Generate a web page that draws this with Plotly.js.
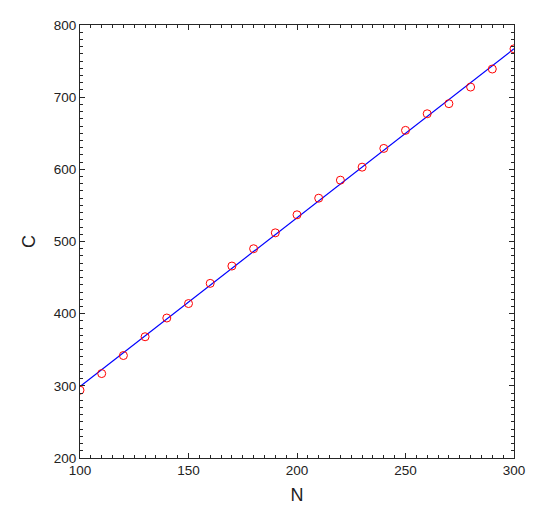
<!DOCTYPE html>
<html>
<head>
<meta charset="utf-8">
<script src="https://cdn.plot.ly/plotly-3.0.1.min.js"></script>
<style>html,body{margin:0;padding:0;background:#fff;}#chart{width:546px;height:512px;}</style>
</head>
<body>
<div id="chart"></div>
<script>
const N = [100,110,120,130,140,150,160,170,180,190,200,210,220,230,240,250,260,270,280,290,300];
const C = [294,317,342,368,394,414,442,466,490,512,537,560,585,603,629,654,677,691,714,739,767];
const fitN = [100,300];
const fitC = [299,767];

const data = [
  {x: fitN, y: fitC, mode:'lines', type:'scatter', line:{color:'#0000ff', width:1.2}, hoverinfo:'skip'},
  {x: N, y: C, mode:'markers', type:'scatter', marker:{symbol:'circle-open', size:8, color:'#ff0000', line:{width:1, color:'#ff0000'}}}
];
const axisCommon = {
  showgrid:false, zeroline:false, showline:true, linecolor:'#262626', linewidth:1,
  mirror:'ticks', ticks:'inside', ticklen:5, tickcolor:'#262626',
  tickfont:{family:'Liberation Sans, Arial, sans-serif', size:13.5, color:'#222222'}
};
const layout = {
  width:546, height:512,
  margin:{l:80, r:32, t:25, b:54},
  showlegend:false,
  paper_bgcolor:'#fff', plot_bgcolor:'#fff',
  xaxis: Object.assign({}, axisCommon, {
    range:[100,300], dtick:50, tick0:100,
    minor:{dtick:5, ticks:'inside', ticklen:3, tickcolor:'#262626'},
    title:{text:'N', font:{family:'Liberation Sans, Arial, sans-serif', size:18, color:'#222222'}, standoff:11}
  }),
  yaxis: Object.assign({}, axisCommon, {
    range:[200,800], dtick:100, tick0:200,
    minor:{dtick:10, ticks:'inside', ticklen:3, tickcolor:'#262626'},
    title:{text:'C', font:{family:'Liberation Sans, Arial, sans-serif', size:18, color:'#222222'}, standoff:13}
  })
};
Plotly.newPlot('chart', data, layout, {displayModeBar:false, staticPlot:true});
</script>
</body>
</html>
